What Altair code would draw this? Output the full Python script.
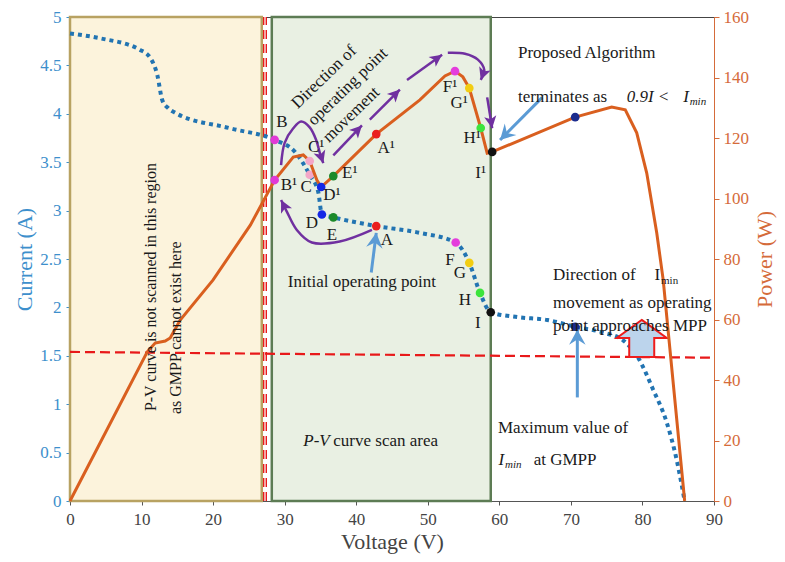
import math
import altair as alt
import pandas as pd

# ---------------- data ----------------
# I-V curve (Voltage V, Current A)
iv_v = [0, 4.2, 9.8, 11.2, 12.2, 12.9, 13.7, 14.7, 22.4, 28.6, 31.4, 33.5, 34.7, 35.2, 36.8,
        42.8, 48.9, 53.9, 55.8, 57.3, 58.8, 62.5, 66.7, 70.6, 74.5, 77.3, 79.4, 81.5, 83.4, 84.8, 85.9]
iv_i = [4.83, 4.78, 4.66, 4.58, 4.40, 4.14, 4.06, 4.01, 3.85, 3.73, 3.61, 3.37, 3.19, 2.96, 2.93,
        2.84, 2.77, 2.67, 2.46, 2.15, 1.95, 1.90, 1.87, 1.80, 1.74, 1.66, 1.48, 1.15, 0.81, 0.42, 0.0]

# P-V curve (Voltage V, Power W)
pv_v = [0, 10.8, 11.9, 13.3, 14.0, 15.4, 20.0, 25.2, 28.6, 31.2, 32.6, 33.5, 34.5, 35.1, 36.8,
        42.8, 48.9, 52.4, 53.8, 54.9, 55.8, 57.4, 58.3, 59.0, 70.6, 75.7, 77.6, 79.2, 80.6, 82.0, 82.9, 85.9]
pv_p = [0, 49.3, 52.2, 52.9, 53.9, 59.8, 73.1, 91.2, 106.1, 113.7, 114.4, 112.4, 106.1, 103.8, 107.4,
        121.3, 132.6, 140.5, 142.1, 140.2, 136.5, 123.3, 115.0, 115.4, 126.9, 130.2, 129.3, 121.7, 108.4, 88.6, 73.1, 0]

# operating points
pt_colors = ["#e03ad6", "#f4a7c8", "#1428e6", "#1b8a2a", "#ea1f1f",
             "#e43ddc", "#f2cd12", "#3de43d", "#111111", "#1c2c8e"]
iv_pt_v = [28.6, 33.5, 35.2, 36.8, 42.8, 53.9, 55.8, 57.3, 58.8, 70.6]
iv_pt_i = [3.73, 3.37, 2.96, 2.93, 2.84, 2.67, 2.46, 2.15, 1.95, 1.80]
pv_pt_v = [28.6, 33.5, 35.1, 36.8, 42.8, 53.8, 55.8, 57.4, 59.0, 70.6]
pv_pt_p = [106.1, 112.4, 103.8, 107.4, 121.3, 142.1, 136.5, 123.3, 115.4, 126.9]

# point labels (anchor in V / A units)
lab_text = ["B", "C", "D", "E", "A", "F", "G", "H", "I",
            "B¹", "C¹", "D¹", "E¹", "A¹", "F¹", "G¹", "H¹", "I¹"]
lab_v = [29.6, 33.0, 33.8, 36.6, 44.3, 53.1, 54.5, 55.2, 57.0,
         30.6, 34.4, 36.6, 39.1, 44.2, 53.1, 54.4, 56.2, 57.4]
lab_i = [3.92, 3.24, 2.87, 2.75, 2.70, 2.49, 2.36, 2.08, 1.84,
         3.26, 3.66, 3.16, 3.39, 3.65, 4.28, 4.11, 3.75, 3.39]

# shaded regions (V range)
region_v1 = [0.0, 28.2]
region_v2 = [26.8, 58.8]
region_fill = ["#fcf3dc", "#e9f0e3"]
region_stroke = ["#b8a262", "#5d7c54"]

# red dashed limits
vline_v = 27.25
hline_v = [0, 90]
hline_i = [1.54, 1.48]

# purple arrows (paths in V / A units)
purple_paths = [
    ([42.2, 37.7, 33.8, 31.7, 30.3, 29.5], [2.80, 2.68, 2.67, 2.80, 2.99, 3.11]),
    ([29.5, 30.0, 31.2, 32.3, 33.5, 34.4, 34.9, 35.4], [3.47, 3.70, 3.85, 3.92, 3.86, 3.73, 3.60, 3.49]),
    ([36.8, 40.8], [3.57, 3.88]),
    ([41.9, 46.1], [3.94, 4.25]),
    ([47.1, 52.0], [4.35, 4.61]),
    ([52.8, 55.2, 57.0, 57.9, 57.4], [4.63, 4.62, 4.56, 4.45, 4.35]),
    ([58.3, 59.0], [4.17, 3.85]),
]
# blue arrows
blue_paths = [
    ([42.1, 42.8], [2.36, 2.77]),
    ([66.0, 60.1], [4.17, 3.73]),
    ([70.9, 70.9], [1.07, 1.77]),
]
# block arrow (direction of I_min)
block_v, block_i = 79.9, 1.68

# ---------------- scales / axes ----------------
W, H = 644, 484
VMAX, IMAX, PMAX = 90, 5, 160
serif = "Liberation Serif"

x_scale = alt.Scale(domain=[0, VMAX], nice=False, zero=False)
i_scale = alt.Scale(domain=[0, IMAX], nice=False)
p_scale = alt.Scale(domain=[0, PMAX], nice=False)

x_axis = alt.Axis(title="Voltage (V)", values=list(range(0, 91, 10)), format="d", grid=False,
                  domainColor="#555", tickColor="#555", tickSize=4, labelPadding=6, labelFlush=False,
                  labelFont=serif, labelFontSize=17, labelColor="#444",
                  titleFont=serif, titleFontSize=22, titleColor="#444", titleFontWeight="normal",
                  titlePadding=4)
left_axis = alt.Axis(title="Current (A)", values=[k * 0.5 for k in range(11)], format="~g", grid=False,
                     domain=False, tickColor="#3d8fcc", tickSize=4, labelPadding=5, labelFlush=False,
                     labelFont=serif, labelFontSize=17, labelColor="#3d8fcc",
                     titleFont=serif, titleFontSize=22, titleColor="#3d8fcc", titleFontWeight="normal",
                     titlePadding=3)
right_axis = alt.Axis(orient="right", title="Power (W)", values=list(range(0, 161, 20)), format="d",
                      grid=False, domainColor="#d56b3a", tickColor="#d56b3a", tickSize=5, labelPadding=4,
                      labelFlush=False,
                      labelFont=serif, labelFontSize=17, labelColor="#d56b3a",
                      titleFont=serif, titleFontSize=22, titleColor="#d56b3a", titleFontWeight="normal",
                      titleAngle=270, titlePadding=28)


def X(f="v"):
    return alt.X(f"{f}:Q", scale=x_scale, axis=x_axis)


def Ybg(f="i"):
    return alt.Y(f"{f}:Q", scale=i_scale, axis=left_axis)


def Yfg(f="i"):
    return alt.Y(f"{f}:Q", scale=i_scale, axis=None)


def Yp(f="p"):
    return alt.Y(f"{f}:Q", scale=p_scale, axis=right_axis)


# ---------------- frames ----------------
iv_df = pd.DataFrame({"v": iv_v, "i": iv_i})
pv_df = pd.DataFrame({"v": pv_v, "p": pv_p})
iv_pts = pd.DataFrame({"v": iv_pt_v, "i": iv_pt_i, "c": pt_colors})
pv_pts = pd.DataFrame({"v": pv_pt_v, "p": pv_pt_p, "c": pt_colors})
labels_df = pd.DataFrame({"t": lab_text, "v": lab_v, "i": lab_i})
regions_df = pd.DataFrame({"v": region_v1, "v2": region_v2, "i": [0, 0], "i2": [IMAX, IMAX],
                           "f": region_fill, "s": region_stroke})
vline_df = pd.DataFrame({"v": [vline_v, vline_v], "i": [0, IMAX]})
hline_df = pd.DataFrame({"v": hline_v, "i": hline_i})


def arrow_frames(paths):
    lines, heads = [], []
    for k, (vs, is_) in enumerate(paths):
        for j, (v, i) in enumerate(zip(vs, is_)):
            lines.append({"a": k, "o": j, "v": v, "i": i})
        dx = (vs[-1] - vs[-2]) * W / VMAX
        dy = -(is_[-1] - is_[-2]) * H / IMAX
        ang = math.degrees(math.atan2(dx, -dy)) % 360
        heads.append({"v": vs[-1], "i": is_[-1], "ang": ang})
    return pd.DataFrame(lines), pd.DataFrame(heads)


pl_df, ph_df = arrow_frames(purple_paths)
bl_df, bh_df = arrow_frames(blue_paths)
block_df = pd.DataFrame({"v": [block_v], "i": [block_i]})

# texts
txt_left = pd.DataFrame({
    "t": ["Proposed Algorithm", "terminates as", "Direction of", "I", "movement as operating",
          "point approaches MPP", "Maximum value of", "at GMPP", "curve scan area"],
    "v": [62.6, 62.6, 67.5, 81.7, 67.5, 67.5, 59.8, 64.8, 36.8],
    "i": [4.63, 4.17, 2.33, 2.33, 2.05, 1.81, 0.75, 0.42, 0.62]})
txt_sub = pd.DataFrame({"t": ["min"], "v": [82.6], "i": [2.27]})
txt_ital = pd.DataFrame({"t": ["0.9I <", "I", "I", "P-V"],
                         "v": [77.8, 85.7, 59.9, 32.6],
                         "i": [4.17, 4.17, 0.42, 0.62]})
txt_ital_sub = pd.DataFrame({"t": ["min", "min"], "v": [86.6, 60.8], "i": [4.12, 0.37]})
txt_center = pd.DataFrame({"t": ["Initial operating point"], "v": [40.8], "i": [2.26]})
txt_rot = pd.DataFrame({
    "t": ["P-V curve is not scanned in this region", "as GMPP cannot exist here",
          "Direction of", "operating point", "movement"],
    "v": [11.3, 14.8, 35.5, 38.8, 39.3],
    "i": [2.21, 1.79, 4.38, 4.28, 3.99],
    "ang": [270, 270, 316, 316, 316],
    "sz": [16, 16, 17, 17, 17]})

# ---------------- background group (current axis) ----------------
regions = alt.Chart(regions_df).mark_rect(strokeWidth=2.5).encode(
    x=X(), x2="v2:Q", y=Ybg(), y2="i2:Q",
    fill=alt.Fill("f:N", scale=None), stroke=alt.Stroke("s:N", scale=None))
vline = alt.Chart(vline_df).mark_line(color="#e8191a", strokeWidth=4, strokeDash=[9, 5]).encode(x=X(), y=Ybg())
vline_w = alt.Chart(vline_df).mark_line(color="white", strokeWidth=1.2).encode(x=X(), y=Ybg())
hline = alt.Chart(hline_df).mark_line(color="#e8191a", strokeWidth=2.2, strokeDash=[10, 5]).encode(x=X(), y=Ybg())
iv_line = alt.Chart(iv_df).mark_line(color="#2274b2", strokeWidth=4, strokeDash=[4, 4],
                                     interpolate="monotone").encode(x=X(), y=Ybg())
iv_marks = alt.Chart(iv_pts).mark_point(filled=True, size=75, opacity=1, shape="circle").encode(
    x=X(), y=Ybg(), color=alt.Color("c:N", scale=None))
block = alt.Chart(block_df).mark_point(
    shape="M0,-0.74 L1,-0.02 L0.5,-0.02 L0.5,0.74 L-0.5,0.74 L-0.5,-0.02 L-1,-0.02 Z",
    size=2500, filled=True, fill="#bcd4ec", stroke="#ee1c1c", strokeWidth=2, opacity=1
).encode(x=X(), y=Ybg())

bg = alt.layer(regions, vline, vline_w, hline, iv_line, iv_marks, block)

# ---------------- power group ----------------
pv_line = alt.Chart(pv_df).mark_line(color="#d95f1f", strokeWidth=3).encode(x=X(), y=Yp())
pv_marks = alt.Chart(pv_pts).mark_point(filled=True, size=75, opacity=1, shape="circle").encode(
    x=X(), y=Yp(), color=alt.Color("c:N", scale=None))
pg = alt.layer(pv_line, pv_marks)

# ---------------- foreground group (annotations) ----------------
purple = "#7030a0"
p_lines = alt.Chart(pl_df).mark_line(color=purple, strokeWidth=2.5, interpolate="catmull-rom").encode(
    x=X(), y=Yfg(), detail="a:N", order="o:Q")
p_heads = alt.Chart(ph_df).mark_point(shape="M0,0 L-0.5,1 L0,0.75 L0.5,1 Z", size=600, filled=True,
                                      color=purple, opacity=1).encode(
    x=X(), y=Yfg(), angle=alt.Angle("ang:Q", scale=None))
blue = "#5b9bd5"
b_lines = alt.Chart(bl_df).mark_line(color=blue, strokeWidth=3).encode(
    x=X(), y=Yfg(), detail="a:N", order="o:Q")
b_heads = alt.Chart(bh_df).mark_point(shape="M0,0 L-0.55,1 L0,0.65 L0.55,1 Z", size=900, filled=True,
                                      color=blue, opacity=1).encode(
    x=X(), y=Yfg(), angle=alt.Angle("ang:Q", scale=None))

tcol = "#1a1a1a"
t_left = alt.Chart(txt_left).mark_text(font=serif, fontSize=17, align="left", baseline="middle",
                                       color=tcol).encode(x=X(), y=Yfg(), text="t:N")
t_sub = alt.Chart(txt_sub).mark_text(font=serif, fontSize=11, align="left", baseline="middle",
                                     color=tcol).encode(x=X(), y=Yfg(), text="t:N")
t_ital = alt.Chart(txt_ital).mark_text(font=serif, fontSize=17, fontStyle="italic", align="left",
                                       baseline="middle", color=tcol).encode(x=X(), y=Yfg(), text="t:N")
t_ital_sub = alt.Chart(txt_ital_sub).mark_text(font=serif, fontSize=11, fontStyle="italic", align="left",
                                               baseline="middle", color=tcol).encode(x=X(), y=Yfg(), text="t:N")
t_center = alt.Chart(txt_center).mark_text(font=serif, fontSize=17, align="center", baseline="middle",
                                           color=tcol).encode(x=X(), y=Yfg(), text="t:N")
t_labels = alt.Chart(labels_df).mark_text(font=serif, fontSize=17, align="center", baseline="middle",
                                          color=tcol).encode(x=X(), y=Yfg(), text="t:N")
t_rot = alt.Chart(txt_rot).mark_text(font=serif, align="center", baseline="middle", color=tcol).encode(
    x=X(), y=Yfg(), text="t:N", angle=alt.Angle("ang:Q", scale=None), size=alt.Size("sz:Q", scale=None))

fg = alt.layer(p_lines, p_heads, b_lines, b_heads, t_left, t_sub, t_ital, t_ital_sub, t_center,
               t_labels, t_rot)

chart = alt.layer(bg, pg, fg).resolve_scale(y="independent").properties(
    width=W, height=H,
    padding={"left": 62, "top": 9, "right": 63, "bottom": 53},
    autosize=alt.AutoSizeParams(type="none"),
    background="white",
).configure(font=serif).configure_view(stroke="#444", strokeWidth=1).configure_axis(
    labelFont=serif, titleFont=serif, labelFlush=False
)

chart.save("out.html", embed_options={"renderer": "svg", "actions": False})
